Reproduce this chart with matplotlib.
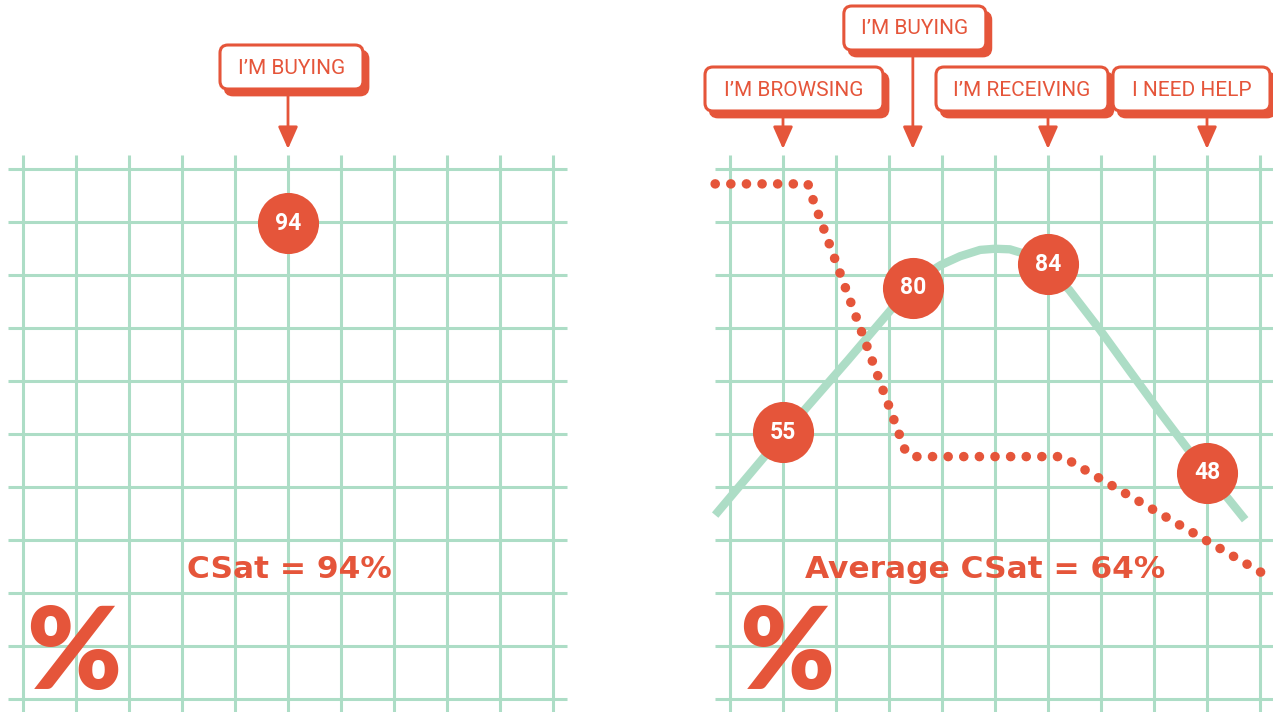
import numpy as np
import matplotlib
matplotlib.use("Agg")
import matplotlib.pyplot as plt
from matplotlib.patches import FancyBboxPatch
from matplotlib import font_manager

# ---------------- data ----------------
left_stages = ["I’M BUYING"]
left_pos = [5]
left_csat = [94]
left_summary = "CSat = 94%"

right_stages = ["I’M BROWSING", "I’M BUYING", "I’M RECEIVING", "I NEED HELP"]
right_pos = [1, 3.45, 6, 9]
right_csat = [55, 80, 84, 48]
right_summary = "Average CSat = 64%"

# satisfaction curve across the journey
curve_x = [-0.28, 1.0, 2.23, 3.45, 3.68, 3.98, 4.34, 4.72, 5.0, 5.28, 5.57,
           5.96, 6.40, 6.98, 7.55, 8.11, 8.68, 8.98, 9.72]
curve_y = [40.7, 54.6, 67.5, 80.6, 82.2, 83.9, 85.4, 86.5, 86.7, 86.6, 85.8,
           83.7, 79.6, 72.7, 65.5, 58.5, 51.6, 48.3, 39.9]

# dotted trend line
trend_x = [-0.28, 1.47, 1.57, 3.30, 3.43, 6.28, 6.53, 10.19]
trend_y = [97.9, 97.9, 95.1, 52.0, 50.8, 50.8, 49.4, 29.9]

# ---------------- style / layout ----------------
RED = "#E5553A"
GREEN = "#ADDDC6"
W, H = 1273, 712
GRID = 53
PX_PER_UNIT = 5.79

installed = {f.name for f in font_manager.fontManager.ttflist}
LABEL_FONT = ["Roboto", "DejaVu Sans"]
NUM_FONT = ["Roboto", "DejaVu Sans"]
PCT_FONT = ["Lato", "DejaVu Sans"] if "Lato" in installed else ["DejaVu Sans"]

fig = plt.figure(figsize=(W / 100, H / 100), dpi=100)
fig.patch.set_facecolor("white")
bg = fig.add_axes([0, 0, 1, 1])
bg.set_xlim(0, W)
bg.set_ylim(H, 0)
bg.axis("off")


def draw_grid(x0):
    xs = x0 + GRID * np.arange(11)
    ys = 169 + GRID * np.arange(11)
    for x in xs:
        bg.plot([x, x], [155, H + 2], color=GREEN, lw=2.2,
                solid_capstyle="butt", zorder=1)
    for y in ys:
        bg.plot([x0 - 15, x0 + GRID * 10 + 14], [y, y], color=GREEN, lw=2.2,
                solid_capstyle="butt", zorder=1)


draw_grid(23)
draw_grid(730)


def data_axes(px0, px1, x_origin_px, y_ref_px, y_ref_val):
    ax = fig.add_axes([px0 / W, 0, (px1 - px0) / W, 1])
    ax.set_xlim((px0 - x_origin_px) / GRID, (px1 - x_origin_px) / GRID)
    ax.set_ylim(y_ref_val - (H - y_ref_px) / PX_PER_UNIT,
                y_ref_val + y_ref_px / PX_PER_UNIT)
    ax.axis("off")
    ax.patch.set_alpha(0)
    return ax


axL = data_axes(0, 600, 23, 223, 94)
axR = data_axes(690, W, 730, 364.25, 66.75)

# right panel series
axR.plot(curve_x, curve_y, color=GREEN, lw=6, solid_capstyle="butt",
         solid_joinstyle="round", zorder=3, clip_on=False)
axR.plot(trend_x, trend_y, color=RED, lw=6.9, linestyle=(0, (0.01, 1.62)),
         dash_capstyle="round", zorder=3, clip_on=False)


def circles(ax, pos, vals):
    ax.scatter(pos, vals, s=44 ** 2, color=RED, zorder=5, linewidths=0,
               clip_on=False)
    for p, v in zip(pos, vals):
        ax.text(p, v, str(v), color="white", ha="center", va="center",
                fontsize=16.5, fontweight="bold", family=NUM_FONT, zorder=6)


circles(axL, left_pos, left_csat)
circles(axR, right_pos, right_csat)


def stage_labels(ax, names, pos, boxes):
    to_bg = bg.transData.inverted()
    for name, p, (dx, w, top) in zip(names, pos, boxes):
        ax_px = to_bg.transform(ax.transData.transform((p, 0)))[0]
        cx = ax_px + dx
        h = 44
        shadow = FancyBboxPatch((cx - w / 2 + 5, top + 6), w, h,
                                boxstyle="round,pad=0,rounding_size=8",
                                fc=RED, ec=RED, lw=2, zorder=7)
        box = FancyBboxPatch((cx - w / 2, top), w, h,
                             boxstyle="round,pad=0,rounding_size=8",
                             fc="white", ec=RED, lw=2.2, zorder=8)
        bg.add_patch(shadow)
        bg.add_patch(box)
        bg.text(cx, top + h / 2 + 1, name, color=RED, ha="center",
                va="center", fontsize=15, fontweight="normal",
                family=LABEL_FONT, zorder=9)
        bg.annotate("", xy=(ax_px, 149), xytext=(ax_px, top + h),
                    arrowprops=dict(arrowstyle="-|>,head_length=1.35,head_width=0.6",
                                    mutation_scale=10, color=RED, lw=2,
                                    shrinkA=0, shrinkB=0),
                    zorder=7)


stage_labels(axL, left_stages, left_pos, [(3.5, 143, 45)])
stage_labels(axR, right_stages, right_pos,
             [(11, 178, 67), (2, 142, 6), (-26, 172, 67), (-15.5, 157, 67)])

# summaries
bg.text(289, 570, left_summary, color=RED, ha="center", va="center",
        fontsize=22.5, fontweight="bold", family="DejaVu Sans", zorder=9)
bg.text(985, 570, right_summary, color=RED, ha="center", va="center",
        fontsize=22.5, fontweight="bold", family="DejaVu Sans", zorder=9)

# big percent signs
for x in (74, 787):
    bg.text(x, 646, "%", color=RED, ha="center", va="center_baseline",
            fontsize=82, fontweight="heavy", family=PCT_FONT, zorder=9)

fig.savefig("out.png", dpi=100, facecolor="white")
